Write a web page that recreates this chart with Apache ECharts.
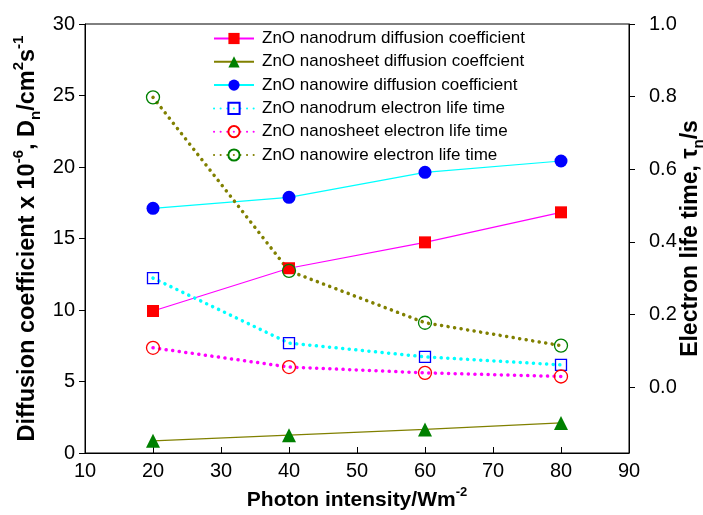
<!DOCTYPE html>
<html>
<head>
<meta charset="utf-8">
<script src="https://cdn.jsdelivr.net/npm/echarts@6/dist/echarts.min.js"></script>
<style>html,body{margin:0;padding:0;background:#fff}#c{width:703px;height:515px}</style>
</head>
<body>
<div id="c"></div>
<script>
const xValues = [20, 40, 60, 80];
const nanodrumD = [9.93, 12.92, 14.73, 16.83];
const nanosheetD = [0.85, 1.25, 1.65, 2.1];
const nanowireD = [17.11, 17.88, 19.63, 20.42];
const nanodrumTau = [0.30, 0.121, 0.083, 0.061];
const nanosheetTau = [0.108, 0.055, 0.039, 0.029];
const nanowireTau = [0.798, 0.320, 0.177, 0.114];
const rightTicks = [0, 0.2, 0.4, 0.6, 0.8, 1.0];
const names = [
  'ZnO nanodrum diffusion coefficient',
  'ZnO nanosheet diffusion coeffcient',
  'ZnO nanowire diffusion coefficient',
  'ZnO nanodrum electron life time',
  'ZnO nanosheet electron life time',
  'ZnO nanowire electron life time'
];
const pair = arr => xValues.map((x, i) => [x, arr[i]]);
const FONT = 'Liberation Sans, Arial, sans-serif';
const dotted = (color) => ({ color: color, width: 3.5, type: [0.1, 6.5], cap: 'round' });
const rich = (size, sub) => ({
  m: { fontSize: size, fontWeight: 'bold', fontFamily: FONT, color: '#000', lineHeight: size + 8, verticalAlign: 'middle' },
  sup: { fontSize: sub, fontWeight: 'bold', fontFamily: FONT, color: '#000', lineHeight: size + 8, verticalAlign: 'top' },
  sub: { fontSize: sub, fontWeight: 'bold', fontFamily: FONT, color: '#000', lineHeight: size + 3, verticalAlign: 'bottom' }
});

const chart = echarts.init(document.getElementById('c'));
chart.setOption({
  animation: false,
  textStyle: { fontFamily: FONT },
  grid: { left: 85, right: 74, top: 24, bottom: 62, show: true, borderColor: '#000', borderWidth: 1,
          outerBoundsMode: 'none', containLabel: false },
  legend: {
    orient: 'vertical', left: 213, top: 30, padding: 0,
    itemWidth: 40, itemHeight: 14, itemGap: 6.3,
    textStyle: { fontSize: 17, fontFamily: FONT, color: '#000', padding: [0, 0, 0, 3] },
    data: names
  },
  xAxis: {
    type: 'value', min: 10, max: 90, interval: 10,
    name: '{m|Photon intensity/Wm}{sup|-2}', nameLocation: 'middle', nameGap: 30,
    nameTextStyle: { rich: rich(21, 13) },
    axisLine: { lineStyle: { color: '#000' } },
    axisTick: { inside: true, length: 6, lineStyle: { color: '#000' } },
    axisLabel: { fontSize: 20, color: '#000', margin: 8 },
    splitLine: { show: false }
  },
  yAxis: [{
    type: 'value', min: 0, max: 30, interval: 5, position: 'left',
    name: '{m|Diffusion coefficient x 10}{sup|-6}{m|, D}{sub|n}{m|/cm}{sup|2}{m|s}{sup|-1}',
    nameLocation: 'middle', nameRotate: 90, nameGap: 42, nameMoveOverlap: false,
    nameTextStyle: { rich: rich(23.5, 15) },
    axisLine: { show: true, lineStyle: { color: '#000' } },
    axisTick: { show: true, length: 6, lineStyle: { color: '#000' } },
    axisLabel: { fontSize: 20, color: '#000', margin: 10 },
    splitLine: { show: false }
  }, {
    type: 'value', min: -0.1818, max: 1.0, position: 'right',
    name: '{m|Electron life time, τ}{sub|n}{m|/s}',
    nameLocation: 'middle', nameRotate: 90, nameGap: 46, nameMoveOverlap: false,
    nameTextStyle: { rich: rich(23, 15) },
    axisLine: { show: true, lineStyle: { color: '#000' } },
    axisTick: { show: true, length: 6, customValues: rightTicks, lineStyle: { color: '#000' } },
    axisLabel: { fontSize: 20, color: '#000', margin: 20, customValues: rightTicks, formatter: v => v.toFixed(1) },
    splitLine: { show: false }
  }],
  series: [
    { name: names[0], type: 'line', yAxisIndex: 0, data: pair(nanodrumD),
      lineStyle: { color: '#ff00ff', width: 1.2 }, symbol: 'rect', symbolSize: 12,
      itemStyle: { color: '#ff0000', borderWidth: 0 } },
    { name: names[1], type: 'line', yAxisIndex: 0, data: pair(nanosheetD),
      lineStyle: { color: '#808000', width: 1.2 }, symbol: 'triangle', symbolSize: 14,
      itemStyle: { color: '#008000', borderWidth: 0 } },
    { name: names[2], type: 'line', yAxisIndex: 0, data: pair(nanowireD),
      lineStyle: { color: '#00ffff', width: 1.2 }, symbol: 'circle', symbolSize: 13,
      itemStyle: { color: '#0000ff', borderWidth: 0 } },
    { name: names[3], type: 'line', yAxisIndex: 1, data: pair(nanodrumTau),
      lineStyle: dotted('#00ffff'), symbol: 'rect', symbolSize: 11,
      itemStyle: { color: 'rgba(0,0,0,0)', borderColor: '#0000ff', borderWidth: 1.3 } },
    { name: names[4], type: 'line', yAxisIndex: 1, data: pair(nanosheetTau),
      lineStyle: dotted('#ff00ff'), symbol: 'circle', symbolSize: 13,
      itemStyle: { color: 'rgba(0,0,0,0)', borderColor: '#ff0000', borderWidth: 1.3 } },
    { name: names[5], type: 'line', yAxisIndex: 1, data: pair(nanowireTau),
      lineStyle: dotted('#808000'), symbol: 'circle', symbolSize: 13,
      itemStyle: { color: 'rgba(0,0,0,0)', borderColor: '#008000', borderWidth: 1.3 } }
  ]
});
</script>
</body>
</html>
